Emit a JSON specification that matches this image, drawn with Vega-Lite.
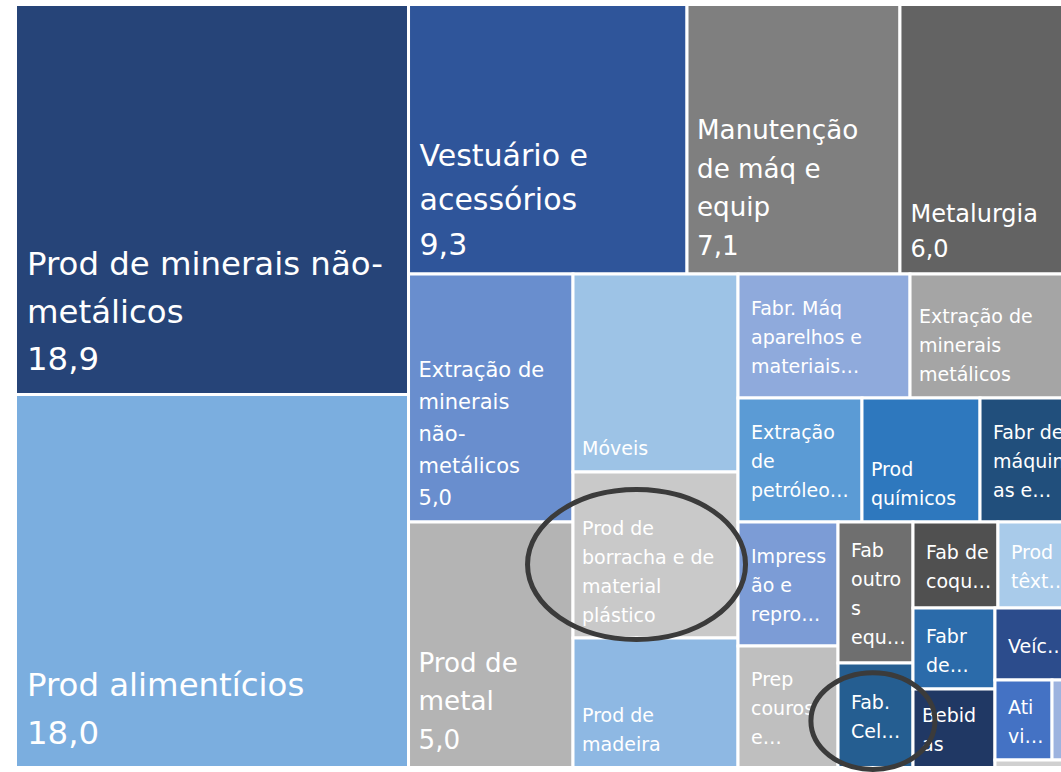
{
  "$schema": "https://vega.github.io/schema/vega-lite/v6.json",
  "width": 1061,
  "height": 772,
  "padding": 0,
  "autosize": {"type": "none"},
  "background": "white",
  "config": {"view": {"stroke": null}, "font": "DejaVu Sans"},
  "datasets": {
    "cells": [
      {"label": "Prod de minerais não-metálicos", "value": 18.9, "text": "Prod de minerais não-\nmetálicos\n18,9", "x0": 0, "x1": 37.06, "y0": 0, "y1": 51.11},
      {"label": "Prod alimentícios", "value": 18.0, "text": "Prod alimentícios\n18,0", "x0": 0, "x1": 37.06, "y0": 51.11, "y1": 100},
      {"label": "Vestuário e acessórios", "value": 9.3, "text": "Vestuário e\nacessórios\n9,3", "x0": 37.06, "x1": 63.32, "y0": 0, "y1": 35.32},
      {"label": "Manutenção de máq e equip", "value": 7.1, "text": "Manutenção\nde máq e\nequip\n7,1", "x0": 63.32, "x1": 83.4, "y0": 0, "y1": 35.32},
      {"label": "Metalurgia", "value": 6.0, "text": "Metalurgia\n6,0", "x0": 83.4, "x1": 100, "y0": 0, "y1": 35.32},
      {"label": "Extração de minerais não-metálicos", "value": 5.0, "text": "Extração de\nminerais\nnão-\nmetálicos\n5,0", "x0": 37.06, "x1": 52.57, "y0": 35.32, "y1": 67.82},
      {"label": "Prod de metal", "value": 5.0, "text": "Prod de\nmetal\n5,0", "x0": 37.06, "x1": 52.57, "y0": 67.82, "y1": 100},
      {"label": "Móveis", "value": 4.0, "text": "Móveis", "x0": 52.57, "x1": 68.13, "y0": 35.32, "y1": 61.27},
      {"label": "Prod de borracha e de material plástico", "value": 3.4, "text": "Prod de\nborracha e de\nmaterial\nplástico", "x0": 52.57, "x1": 68.13, "y0": 61.27, "y1": 83.03},
      {"label": "Prod de madeira", "value": 2.6, "text": "Prod de\nmadeira", "x0": 52.57, "x1": 68.13, "y0": 83.03, "y1": 100},
      {"label": "Fabr. Máq aparelhos e materiais elétricos", "value": 2.6, "text": "Fabr. Máq\naparelhos e\nmateriais…", "x0": 68.13, "x1": 84.35, "y0": 35.32, "y1": 51.57},
      {"label": "Extração de minerais metálicos", "value": 2.5, "text": "Extração de\nminerais\nmetálicos", "x0": 84.35, "x1": 100, "y0": 35.32, "y1": 51.57},
      {"label": "Extração de petróleo e gás", "value": 1.9, "text": "Extração\nde\npetróleo…", "x0": 68.13, "x1": 79.82, "y0": 51.57, "y1": 67.82},
      {"label": "Prod químicos", "value": 1.8, "text": "Prod\nquímicos", "x0": 79.82, "x1": 90.95, "y0": 51.57, "y1": 67.82},
      {"label": "Fabr de máquinas e equipamentos", "value": 1.5, "text": "Fabr de\nmáquin\nas e…", "x0": 90.95, "x1": 100, "y0": 51.57, "y1": 67.82},
      {"label": "Impressão e reprodução de gravações", "value": 1.5, "text": "Impress\não e\nrepro…", "x0": 68.13, "x1": 77.56, "y0": 67.82, "y1": 84.08},
      {"label": "Prep couros e fab. artefatos de couro", "value": 1.5, "text": "Prep\ncouros\ne…", "x0": 68.13, "x1": 77.56, "y0": 84.08, "y1": 100},
      {"label": "Fab outros equipamentos de transporte", "value": 1.3, "text": "Fab\noutro\ns\nequ…", "x0": 77.56, "x1": 84.63, "y0": 67.82, "y1": 86.3},
      {"label": "Fab. Celulose e papel", "value": 1.0, "text": "Fab.\nCel…", "x0": 77.56, "x1": 84.63, "y0": 86.3, "y1": 100},
      {"label": "Fab de coque e derivados de petróleo", "value": 0.9, "text": "Fab de\ncoqu…", "x0": 84.63, "x1": 92.64, "y0": 67.82, "y1": 79.1},
      {"label": "Prod têxteis", "value": 0.8, "text": "Prod\ntêxt…", "x0": 92.64, "x1": 100, "y0": 67.82, "y1": 79.1},
      {"label": "Fabr de produtos diversos", "value": 0.8, "text": "Fabr\nde…", "x0": 84.63, "x1": 92.36, "y0": 79.1, "y1": 89.71},
      {"label": "Bebidas", "value": 0.8, "text": "Bebid\nas", "x0": 84.63, "x1": 92.36, "y0": 89.71, "y1": 100},
      {"label": "Veículos automotores", "value": 0.7, "text": "Veíc…", "x0": 92.36, "x1": 100, "y0": 79.1, "y1": 88.53},
      {"label": "Atividades de apoio à extração", "value": 0.6, "text": "Ati\nvi…", "x0": 92.36, "x1": 97.74, "y0": 88.53, "y1": 99.02},
      {"label": "Outros A", "value": 0.3, "text": "", "x0": 97.74, "x1": 100, "y0": 88.53, "y1": 99.02},
      {"label": "Outros B", "value": 0.1, "text": "", "x0": 92.36, "x1": 100, "y0": 99.02, "y1": 100}
    ],
    "marks": [
      {"name": "e1", "cx": 58.56, "cy": 73.39},
      {"name": "e2", "cx": 80.85, "cy": 93.91}
    ]
  },
  "layer": [
    {
      "data": {"name": "cells"},
      "mark": {"type": "rect", "stroke": "white", "strokeWidth": 3},
      "encoding": {
        "x": {"field": "x0", "type": "quantitative", "scale": {"domain": [0, 100], "range": [15.5, 1076]}, "axis": null},
        "x2": {"field": "x1"},
        "y": {"field": "y0", "type": "quantitative", "scale": {"domain": [0, 100], "range": [4.5, 767.5]}, "axis": null},
        "y2": {"field": "y1"},
        "color": {
          "field": "label", "type": "nominal", "legend": null,
          "scale": {
            "domain": ["Prod de minerais não-metálicos", "Prod alimentícios", "Vestuário e acessórios", "Manutenção de máq e equip", "Metalurgia", "Extração de minerais não-metálicos", "Prod de metal", "Móveis", "Prod de borracha e de material plástico", "Prod de madeira", "Fabr. Máq aparelhos e materiais elétricos", "Extração de minerais metálicos", "Extração de petróleo e gás", "Prod químicos", "Fabr de máquinas e equipamentos", "Impressão e reprodução de gravações", "Prep couros e fab. artefatos de couro", "Fab outros equipamentos de transporte", "Fab. Celulose e papel", "Fab de coque e derivados de petróleo", "Prod têxteis", "Fabr de produtos diversos", "Bebidas", "Veículos automotores", "Atividades de apoio à extração", "Outros A", "Outros B"],
            "range": ["#264478", "#7BAEDF", "#2F559A", "#7F7F7F", "#636363", "#698ECE", "#B4B4B4", "#9DC3E6", "#C9C9C9", "#8EB8E3", "#8FAADC", "#A5A5A5", "#5B9BD5", "#2E78BE", "#214F7C", "#7C9CD6", "#BFBFBF", "#6F6F6F", "#255E91", "#505050", "#A9CBEA", "#2B6BAA", "#203864", "#2C4C8C", "#4472C4", "#9DB3DF", "#D0D0D0"]
          }
        }
      }
    },
    {
      "data": {"name": "cells"},
      "transform": [
        {"filter": {"field": "label", "oneOf": ["Prod de minerais não-metálicos", "Prod alimentícios"]}},
        {"calculate": "datum.y1 - (24 + (length(split(datum.text, '\\n')) - 1) * 47.5) / 7.63", "as": "ty"}
      ],
      "mark": {"type": "text", "lineBreak": "\n", "align": "left", "baseline": "alphabetic", "fontSize": 32.4, "lineHeight": 47.5, "dx": 11.5, "color": "white"},
      "encoding": {
        "x": {"field": "x0", "type": "quantitative"},
        "y": {"field": "ty", "type": "quantitative"},
        "text": {"field": "text"}
      }
    },
    {
      "data": {"name": "cells"},
      "transform": [
        {"filter": {"field": "label", "equal": "Vestuário e acessórios"}},
        {"calculate": "datum.y1 - (19 + (length(split(datum.text, '\\n')) - 1) * 44.5) / 7.63", "as": "ty"}
      ],
      "mark": {"type": "text", "lineBreak": "\n", "align": "left", "baseline": "alphabetic", "fontSize": 30, "lineHeight": 44.5, "dx": 11, "color": "white"},
      "encoding": {
        "x": {"field": "x0", "type": "quantitative"},
        "y": {"field": "ty", "type": "quantitative"},
        "text": {"field": "text"}
      }
    },
    {
      "data": {"name": "cells"},
      "transform": [
        {"filter": {"field": "label", "oneOf": ["Manutenção de máq e equip", "Prod de metal"]}},
        {"calculate": "datum.y1 - (19 + (length(split(datum.text, '\\n')) - 1) * 38.5) / 7.63", "as": "ty"}
      ],
      "mark": {"type": "text", "lineBreak": "\n", "align": "left", "baseline": "alphabetic", "fontSize": 26.2, "lineHeight": 38.5, "dx": 10, "color": "white"},
      "encoding": {
        "x": {"field": "x0", "type": "quantitative"},
        "y": {"field": "ty", "type": "quantitative"},
        "text": {"field": "text"}
      }
    },
    {
      "data": {"name": "cells"},
      "transform": [
        {"filter": {"field": "label", "equal": "Metalurgia"}},
        {"calculate": "datum.y1 - (17 + (length(split(datum.text, '\\n')) - 1) * 35) / 7.63", "as": "ty"}
      ],
      "mark": {"type": "text", "lineBreak": "\n", "align": "left", "baseline": "alphabetic", "fontSize": 24, "lineHeight": 35, "dx": 10.5, "color": "white"},
      "encoding": {
        "x": {"field": "x0", "type": "quantitative"},
        "y": {"field": "ty", "type": "quantitative"},
        "text": {"field": "text"}
      }
    },
    {
      "data": {"name": "cells"},
      "transform": [
        {"filter": {"field": "label", "equal": "Extração de minerais não-metálicos"}},
        {"calculate": "datum.y1 - (17 + (length(split(datum.text, '\\n')) - 1) * 32) / 7.63", "as": "ty"}
      ],
      "mark": {"type": "text", "lineBreak": "\n", "align": "left", "baseline": "alphabetic", "fontSize": 21, "lineHeight": 32, "dx": 10, "color": "white"},
      "encoding": {
        "x": {"field": "x0", "type": "quantitative"},
        "y": {"field": "ty", "type": "quantitative"},
        "text": {"field": "text"}
      }
    },
    {
      "data": {"name": "cells"},
      "transform": [
        {"filter": {"field": "label", "oneOf": ["Móveis", "Prod de borracha e de material plástico", "Prod de madeira", "Extração de minerais metálicos", "Prod químicos", "Bebidas"]}},
        {"calculate": "datum.y1 - (16.5 + (length(split(datum.text, '\\n')) - 1) * 29) / 7.63", "as": "ty"}
      ],
      "mark": {"type": "text", "lineBreak": "\n", "align": "left", "baseline": "alphabetic", "fontSize": 19, "lineHeight": 29, "dx": 9, "color": "white"},
      "encoding": {
        "x": {"field": "x0", "type": "quantitative"},
        "y": {"field": "ty", "type": "quantitative"},
        "text": {"field": "text"}
      }
    },
    {
      "data": {"name": "cells"},
      "transform": [
        {"filter": "indexof(datum.text, '…') >= 0"},
        {"calculate": "(datum.y0 + datum.y1) / 2 - ((length(split(datum.text, '\\n')) - 1) * 14.5 - 8.5) / 7.63", "as": "ty"}
      ],
      "mark": {"type": "text", "lineBreak": "\n", "align": "left", "baseline": "alphabetic", "fontSize": 19, "lineHeight": 29, "dx": 13, "color": "white"},
      "encoding": {
        "x": {"field": "x0", "type": "quantitative"},
        "y": {"field": "ty", "type": "quantitative"},
        "text": {"field": "text"}
      }
    },
    {
      "data": {"name": "marks"},
      "transform": [{"filter": {"field": "name", "equal": "e1"}}],
      "mark": {"type": "point", "shape": "M-1,0A1,0.688,0,1,1,1,0A1,0.688,0,1,1,-1,0Z", "size": 47524, "filled": false, "color": "#3B3B3B", "strokeWidth": 5, "opacity": 1},
      "encoding": {
        "x": {"field": "cx", "type": "quantitative"},
        "y": {"field": "cy", "type": "quantitative"}
      }
    },
    {
      "data": {"name": "marks"},
      "transform": [{"filter": {"field": "name", "equal": "e2"}}],
      "mark": {"type": "point", "shape": "M-1,0A1,0.78,0,1,1,1,0A1,0.78,0,1,1,-1,0Z", "size": 15376, "filled": false, "color": "#3B3B3B", "strokeWidth": 5, "opacity": 1},
      "encoding": {
        "x": {"field": "cx", "type": "quantitative"},
        "y": {"field": "cy", "type": "quantitative"}
      }
    }
  ]
}
